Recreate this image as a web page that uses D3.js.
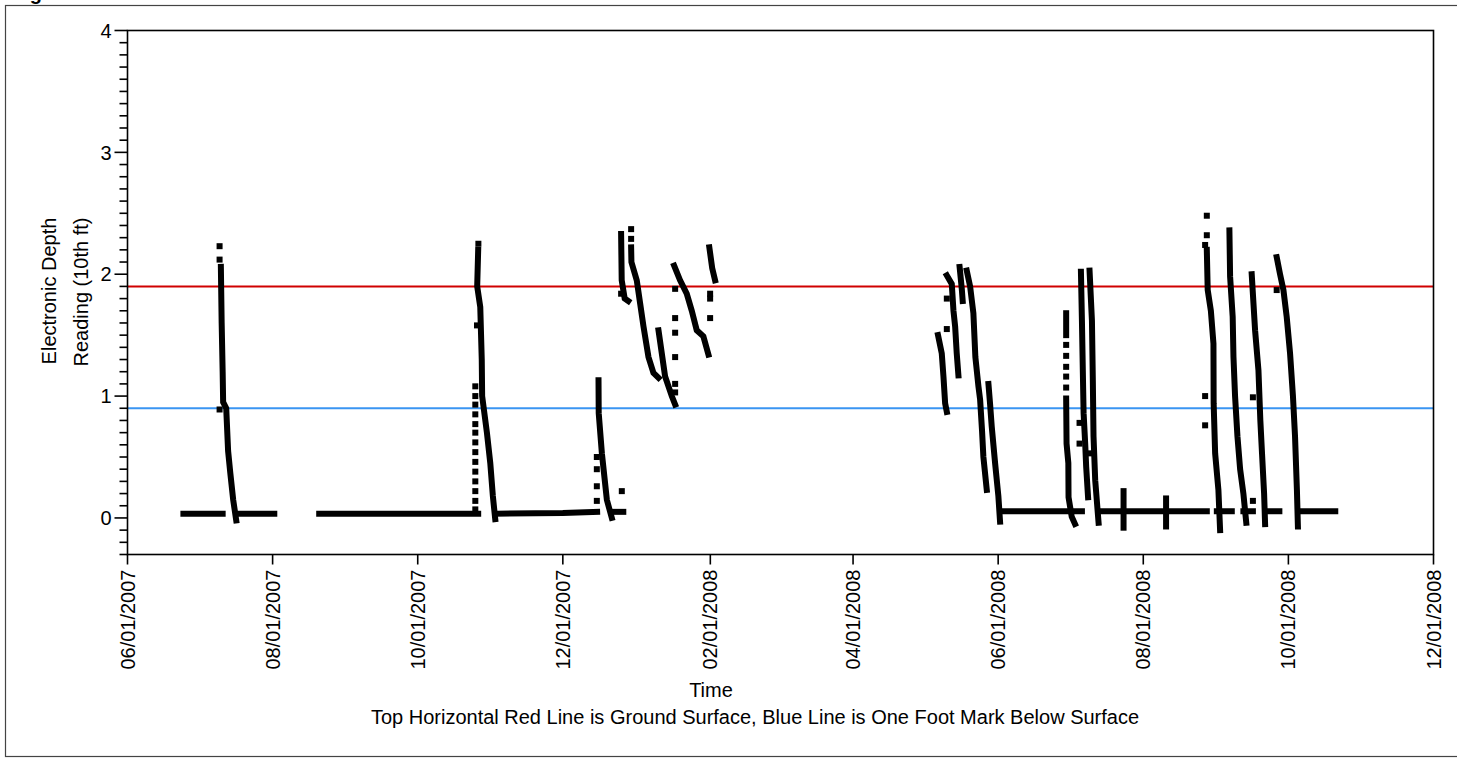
<!DOCTYPE html>
<html><head><meta charset="utf-8">
<script src="https://cdn.jsdelivr.net/npm/d3@7"></script>
<style>
body{margin:0;background:#fff;}
svg{display:block;font-family:"Liberation Sans",Arial,Helvetica,sans-serif;}
</style>
</head><body>
<svg id="chart" width="1457" height="758"></svg>
<script>
// ---------------- DATA ----------------
const xTickDates = ["2007-06-01","2007-08-01","2007-10-01","2007-12-01","2008-02-01","2008-04-01","2008-06-01","2008-08-01","2008-10-01","2008-12-01"];
const yMajorTicks = [0, 1, 2, 3, 4];
const yDomain = [-0.3, 4];
const groundSurface = 1.9;   // red line
const oneFootMark = 0.9;     // blue line
const titleText = "Figure";
const yLabelLines = ["Electronic Depth", "Reading (10th ft)"];
const xLabel = "Time";
const caption = "Top Horizontal Red Line is Ground Surface, Blue Line is One Foot Mark Below Surface";

// flat (dry) readings, runs of consecutive readings
const baselineRuns = [
  [["2007-06-24 12",0.035],["2007-07-11 00",0.035]],
  [["2007-07-17 05",0.035],["2007-08-01 17",0.035]],
  [["2007-08-20 14",0.035],["2007-10-26 10",0.035]],
  [["2007-11-03 07",0.035],["2007-12-01 00",0.04],["2007-12-15 10",0.05]],
  [["2007-12-21 14",0.05],["2007-12-26 10",0.05]],
  [["2008-06-01 19",0.055],["2008-07-06 05",0.055]],
  [["2008-07-13 05",0.055],["2008-08-27 17",0.055]],
  [["2008-08-31 22",0.055],["2008-09-07 05",0.055]],
  [["2008-09-12 02",0.055],["2008-09-16 02",0.055]],
  [["2008-09-21 22",0.055],["2008-09-27 05",0.055]],
  [["2008-10-06 00",0.055],["2008-10-20 17",0.055]]
];

// dense reading traces, 2007 season
const traces2007 = [
  [["2007-07-10 06",2.06],["2007-07-10 14",1.6],["2007-07-11 00",1.2],["2007-07-11 05",0.95],["2007-07-12 12",0.9],["2007-07-13 07",0.55],["2007-07-14 05",0.37],["2007-07-15 10",0.15],["2007-07-16 17",-0.02]],
  [["2007-10-26 10",2.2],["2007-10-26 00",1.9],["2007-10-27 07",1.73],["2007-10-27 22",1.3],["2007-10-28 02",1.0],["2007-10-30 02",0.70],["2007-10-31 12",0.45],["2007-11-01 14",0.18],["2007-11-02 14",-0.01]],
  [["2007-12-16 00",1.13],["2007-12-16 02",0.86],["2007-12-17 10",0.53],["2007-12-19 12",0.15],["2007-12-21 14",0.0]],
  [["2007-12-25 12",2.33],["2007-12-25 18",1.95],["2007-12-27 00",1.80],["2007-12-28 12",1.78]],
  [["2007-12-29 17",2.22],["2007-12-29 20",2.10],["2008-01-01 02",1.95],["2008-01-02 12",1.76],["2008-01-03 22",1.57],["2008-01-06 00",1.32],["2008-01-08 02",1.19],["2008-01-10 05",1.15]],
  [["2008-01-10 05",1.54],["2008-01-13 00",1.16],["2008-01-15 19",1.0],["2008-01-17 05",0.93]],
  [["2008-01-16 19",2.07],["2008-01-19 07",1.95],["2008-01-22 02",1.84],["2008-01-24 05",1.70],["2008-01-26 07",1.54],["2008-01-29 02",1.49],["2008-01-31 05",1.34]],
  [["2008-01-31 14",2.22],["2008-02-01 19",2.05],["2008-02-03 00",1.95]]
];

// dense reading traces, 2008 season
const traces2008 = [
  [["2008-05-06 17",1.50],["2008-05-08 07",1.35],["2008-05-09 00",1.16],["2008-05-09 17",0.94],["2008-05-10 10",0.87]],
  [["2008-05-10 10",1.99],["2008-05-12 12",1.92],["2008-05-13 05",1.70],["2008-05-13 22",1.57],["2008-05-14 14",1.35],["2008-05-15 07",1.17]],
  [["2008-05-15 19",2.06],["2008-05-16 17",1.88],["2008-05-17 02",1.78]],
  [["2008-05-18 19",2.03],["2008-05-20 05",1.90],["2008-05-21 14",1.68],["2008-05-22 10",1.32],["2008-05-23 17",1.08],["2008-05-24 10",0.97],["2008-05-25 05",0.72],["2008-05-25 19",0.50],["2008-05-27 05",0.23]],
  [["2008-05-27 22",1.10],["2008-05-28 14",0.94],["2008-05-29 07",0.75],["2008-05-30 17",0.45],["2008-06-01 02",0.18],["2008-06-01 19",-0.03]],
  [["2008-06-29 14",1.68],["2008-06-29 14",1.50]],
  [["2008-06-29 14",0.98],["2008-06-29 18",0.61],["2008-06-30 12",0.45],["2008-06-30 14",0.17],["2008-07-01 22",0.01],["2008-07-03 07",-0.05]],
  [["2008-07-05 19",2.02],["2008-07-06 05",1.62],["2008-07-06 14",1.21],["2008-07-06 22",0.86],["2008-07-07 14",0.61],["2008-07-08 00",0.42],["2008-07-08 19",0.17]],
  [["2008-07-09 10",2.03],["2008-07-10 10",1.62],["2008-07-10 19",1.13],["2008-07-11 02",0.67],["2008-07-11 19",0.31],["2008-07-13 05",-0.04]],
  [["2008-07-23 17",0.22],["2008-07-23 17",-0.08]],
  [["2008-08-10 14",0.16],["2008-08-10 14",-0.07]],
  [["2008-08-27 17",2.20],["2008-08-28 02",1.87],["2008-08-29 10",1.70],["2008-08-30 12",1.43],["2008-08-30 14",0.94],["2008-08-31 05",0.53],["2008-09-01 14",0.23],["2008-09-02 07",-0.10]],
  [["2008-09-06 05",2.36],["2008-09-06 12",1.98],["2008-09-07 14",1.65],["2008-09-07 22",1.32],["2008-09-08 14",1.00],["2008-09-09 14",0.67],["2008-09-10 17",0.40],["2008-09-12 02",0.20],["2008-09-13 07",-0.04]],
  [["2008-09-15 14",2.00],["2008-09-17 00",1.54],["2008-09-18 10",1.21],["2008-09-19 05",0.80],["2008-09-19 22",0.53],["2008-09-20 19",0.20],["2008-09-21 05",-0.05]],
  [["2008-09-26 02",2.14],["2008-09-27 12",2.00],["2008-09-28 22",1.87],["2008-09-30 07",1.65],["2008-10-01 17",1.35],["2008-10-02 22",1.00],["2008-10-03 19",0.67],["2008-10-04 14",0.23],["2008-10-05 00",-0.07]]
];

// isolated readings
const scatter2007 = [
  ["2007-07-09 17",2.23],["2007-07-09 17",2.12],["2007-07-09 17",0.89],
  ["2007-10-26 12",2.25],["2007-10-25 22",1.58],
  ["2007-10-25 05",1.08],["2007-10-25 05",1.00],["2007-10-25 05",0.93],["2007-10-25 05",0.85],["2007-10-25 05",0.77],["2007-10-25 05",0.70],["2007-10-25 05",0.62],["2007-10-25 05",0.54],["2007-10-25 05",0.46],["2007-10-25 05",0.38],["2007-10-25 05",0.30],["2007-10-25 05",0.22],["2007-10-25 05",0.14],["2007-10-25 05",0.07],
  ["2007-12-15 07",0.50],["2007-12-15 07",0.40],["2007-12-15 07",0.26],["2007-12-15 07",0.14],["2007-12-25 19",0.22],
  ["2007-12-29 17",2.37],["2007-12-29 17",2.29],["2007-12-25 12",1.84],
  ["2008-01-17 05",1.88],["2008-01-17 05",1.64],["2008-01-17 05",1.52],["2008-01-17 05",1.32],["2008-01-17 05",1.10],["2008-01-17 05",1.03],
  ["2008-01-31 22",1.84],["2008-01-31 22",1.80],["2008-01-31 22",1.64]
];
const scatter2008 = [
  ["2008-05-10 10",1.80],["2008-05-10 10",1.55],
  ["2008-06-29 14",1.42],["2008-06-29 14",1.33],["2008-06-29 14",1.24],["2008-06-29 14",1.16],["2008-06-29 14",1.07],
  ["2008-07-05 05",0.78],["2008-07-05 05",0.61],["2008-07-09 12",0.53],
  ["2008-08-27 17",2.48],["2008-08-27 17",2.32],["2008-08-27 00",2.24],["2008-08-27 00",1.00],["2008-08-27 00",0.76],
  ["2008-09-16 02",0.14],["2008-09-16 02",0.99],["2008-09-26 02",1.87]
];

// ---------------- DRAW ----------------
const plot = {left: 127.5, top: 30.5, right: 1433.5, bottom: 554.5};
const FS = 20;
const parseT = d3.timeParse("%Y-%m-%d %H");
const parseD = d3.timeParse("%Y-%m-%d");
const svg = d3.select("#chart");

const x = d3.scaleTime().domain([parseD(xTickDates[0]), parseD(xTickDates[xTickDates.length-1])]).range([plot.left, plot.right]);
const y = d3.scaleLinear().domain(yDomain).range([plot.bottom, plot.top]);

// outer frame
svg.append("rect").attr("x",5.5).attr("y",5.5).attr("width",1470).attr("height",751)
  .attr("fill","none").attr("stroke","#444").attr("stroke-width",1.2);
// cut off title (only descender visible in the original)
svg.append("text").attr("x",12).attr("y",0).attr("font-size",20).attr("font-weight","bold").text(titleText);

// reference lines
svg.append("line").attr("x1",plot.left).attr("x2",plot.right).attr("y1",y(groundSurface)).attr("y2",y(groundSurface))
  .attr("stroke","#d00000").attr("stroke-width",2);
svg.append("line").attr("x1",plot.left).attr("x2",plot.right).attr("y1",y(oneFootMark)).attr("y2",y(oneFootMark))
  .attr("stroke","#3a95f2").attr("stroke-width",2);

// data
const line = d3.line().x(d => x(parseT(d[0]))).y(d => y(d[1]));
const gData = svg.append("g");
[baselineRuns, traces2007, traces2008].forEach(set => {
  gData.selectAll(null).data(set).enter().append("path")
    .attr("d", line).attr("fill","none").attr("stroke","#000").attr("stroke-width",6)
    .attr("stroke-linecap","square").attr("stroke-linejoin","miter").attr("stroke-miterlimit",2);
});
[scatter2007, scatter2008].forEach(set => {
  gData.selectAll(null).data(set).enter().append("rect")
    .attr("x", d => x(parseT(d[0])) - 3).attr("y", d => y(d[1]) - 3)
    .attr("width",6).attr("height",6).attr("fill","#000");
});

// plot box
svg.append("rect").attr("x",plot.left).attr("y",plot.top).attr("width",plot.right-plot.left).attr("height",plot.bottom-plot.top)
  .attr("fill","none").attr("stroke","#000").attr("stroke-width",1.6);

// y axis ticks
const yMinor = d3.range(-3, 41).map(i => i/10);
svg.append("g").selectAll("line").data(yMinor).enter().append("line")
  .attr("x1", d => yMajorTicks.includes(d) ? plot.left-13 : plot.left-8).attr("x2",plot.left)
  .attr("y1", d => y(d)).attr("y2", d => y(d)).attr("stroke","#000").attr("stroke-width",1.6);
svg.append("g").selectAll("text").data(yMajorTicks).enter().append("text")
  .attr("x", plot.left-16).attr("y", d => y(d))
  .attr("dy","0.36em").attr("text-anchor","end").attr("font-size",FS).text(d => d);

// x axis ticks
const fmt = d3.timeFormat("%m/%d/%Y");
const xt = xTickDates.map(parseD);
svg.append("g").selectAll("line").data(xt).enter().append("line")
  .attr("x1", d => x(d)).attr("x2", d => x(d)).attr("y1",plot.bottom).attr("y2",plot.bottom+10)
  .attr("stroke","#000").attr("stroke-width",1.6);
svg.append("g").selectAll("text").data(xt).enter().append("text")
  .attr("transform", d => `translate(${x(d)},${plot.bottom+15}) rotate(-90)`)
  .attr("dy","0.35em").attr("text-anchor","end").attr("font-size",FS).text(d => fmt(d));

// axis titles
svg.append("text").attr("transform",`translate(56,291) rotate(-90)`)
  .attr("text-anchor","middle").attr("font-size",FS).text(yLabelLines[0]);
svg.append("text").attr("transform",`translate(88,292) rotate(-90)`)
  .attr("text-anchor","middle").attr("font-size",FS).text(yLabelLines[1]);
svg.append("text").attr("x",711).attr("y",697)
  .attr("text-anchor","middle").attr("font-size",FS).text(xLabel);
svg.append("text").attr("x",755).attr("y",724)
  .attr("text-anchor","middle").attr("font-size",FS).text(caption);
</script>
</body></html>
